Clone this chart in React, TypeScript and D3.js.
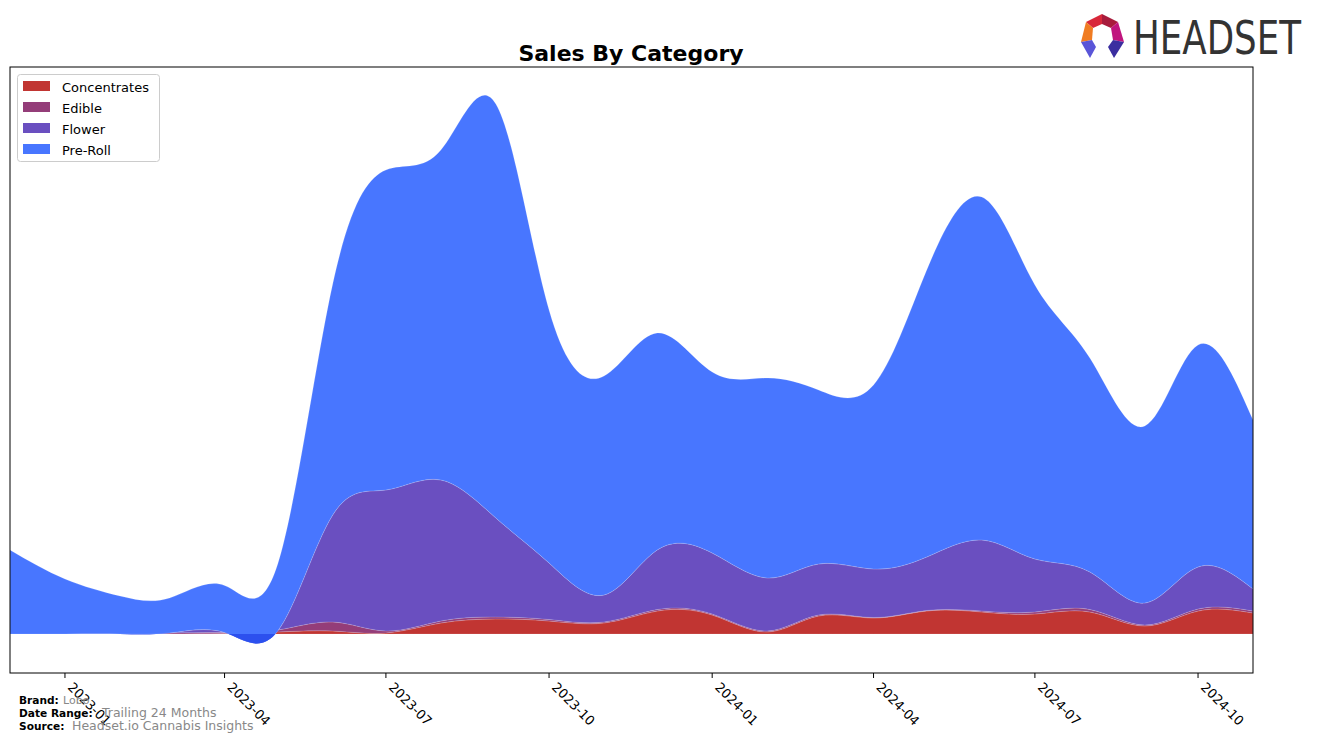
import React from "react";
import * as d3 from "d3";

const months = [
  "2022-12", "2023-01", "2023-02", "2023-03", "2023-04", "2023-05", "2023-06", "2023-07",
  "2023-08", "2023-09", "2023-10", "2023-11", "2023-12", "2024-01", "2024-02", "2024-03",
  "2024-04", "2024-05", "2024-06", "2024-07", "2024-08", "2024-09", "2024-10", "2024-11",
];
const concentrates = [0, 0, 0, 0, 0.1, 0.4, 0.6, 0.2, 2.2, 3.0, 2.6, 2.2, 4.6, 3.8, 0.4, 3.6, 3.2, 4.6, 4.4, 4.0, 4.4, 1.6, 4.6, 4.2];
const edible = [0, 0, 0, 0.2, 0.2, 0.4, 1.8, 0.4, 0.4, 0.4, 0.3, 0.2, 0.3, 0.2, 0.2, 0.2, 0.1, 0.1, 0.2, 0.4, 0.5, 0.2, 0.4, 0.4];
const flower = [0, 0, 0, 0, 0, -0.2, 21.4, 28.2, 28.2, 19.8, 11.3, 5.4, 11.9, 12.2, 10.6, 10.2, 9.7, 10.7, 14.2, 10.6, 7.5, 4.4, 8.4, 4.4];
const preRoll = [16.8, 11, 7.6, 7, 9.4, 13.4, 46.2, 64, 66, 82.8, 50.6, 43.8, 43.4, 36.2, 40, 34.8, 36.8, 57.4, 68.6, 54.8, 42.8, 35.4, 44.4, 33.8];

const categories = ["Concentrates", "Edible", "Flower", "Pre-Roll"];
const colors = ["#c13532", "#943d79", "#6a4fc0", "#4876ff"];
const overlapColor = "#2c50ee";
const tickLabels = ["2023-01", "2023-04", "2023-07", "2023-10", "2024-01", "2024-04", "2024-07", "2024-10"];
const yDomain = [-7.8, 113.4];

const W = 1317, H = 743;
const L = 10, R = 1253, T = 67, B = 673;

const parse = d3.timeParse("%Y-%m");

export default function App() {
  const rows = months.map((m, i) => ({
    date: parse(m) as Date,
    Concentrates: concentrates[i],
    Edible: edible[i],
    Flower: flower[i],
    "Pre-Roll": preRoll[i],
  }));
  const x = d3.scaleTime().domain([rows[0].date, rows[rows.length - 1].date]).range([L, R]);
  const y = d3.scaleLinear().domain(yDomain).range([B, T]);
  const stack = d3.stack<any>().keys(categories).order(d3.stackOrderNone).offset(d3.stackOffsetNone);
  const series = stack(rows);
  const area = d3
    .area<any>()
    .x((d) => x(d.data.date))
    .y0((d) => y(d[0]))
    .y1((d) => y(d[1]))
    .curve(d3.curveNatural);
  const zeroY = y(0);
  const flowerSeries = series[2];

  const font = "'DejaVu Sans', sans-serif";

  return (
    <svg width={W} height={H} style={{ position: "absolute", left: 0, top: 0, background: "#fff" }} fontFamily={font}>
      <rect x={0} y={0} width={W} height={H} fill="#fff" />
      <defs>
        <clipPath id="plot">
          <rect x={L} y={T} width={R - L} height={B - T} />
        </clipPath>
        <clipPath id="belowZero">
          <rect x={L} y={zeroY} width={R - L} height={B - zeroY} />
        </clipPath>
      </defs>
      <g clipPath="url(#plot)">
        {series.map((s, i) => (
          <path key={s.key} d={area(s as any) || ""} fill={colors[i]} stroke="#ffffff" strokeOpacity={0.25} strokeWidth={0.6} />
        ))}
        <g clipPath="url(#belowZero)">
          <path d={area(flowerSeries as any) || ""} fill={overlapColor} />
        </g>
      </g>
      <rect x={L} y={T} width={R - L} height={B - T} fill="none" stroke="#000" strokeWidth={1} />
      {tickLabels.map((t) => {
        const tx = x(parse(t) as Date);
        return (
          <g key={t}>
            <line x1={tx} x2={tx} y1={B} y2={B + 5} stroke="#000" strokeWidth={1} />
            <text x={0} y={0} fontSize={13} textAnchor="start" transform={`translate(${tx + 2},${B + 15}) rotate(45)`} fill="#000">
              {t}
            </text>
          </g>
        );
      })}
      <text x={631} y={61} textAnchor="middle" fontSize={22} fontWeight="bold" fill="#000">
        Sales By Category
      </text>
      <g>
        <rect x={17.5} y={74.5} width={142} height={87} rx={3} fill="#fff" fillOpacity={0.8} stroke="#cccccc" />
        {categories.map((c, i) => (
          <g key={c}>
            <rect x={23} y={81 + i * 21} width={27} height={10} fill={colors[i]} />
            <text x={62} y={91.5 + i * 21} fontSize={13} fill="#000">
              {c}
            </text>
          </g>
        ))}
      </g>
      <g fontSize={10.6}>
        <text x={19} y={704} fontWeight="bold" fill="#000">Brand:</text>
        <text x={63} y={704} fill="#888" fontSize={11}>Lobo</text>
        <text x={19} y={717} fontWeight="bold" fill="#000">Date Range:</text>
        <text x={102} y={717} fill="#888" fontSize={12.5}>Trailing 24 Months</text>
        <text x={19} y={730} fontWeight="bold" fill="#000">Source:</text>
        <text x={72} y={730} fill="#888" fontSize={12.5}>Headset.io Cannabis Insights</text>
      </g>
      <g>
        <polygon points="1086,22 1102,14 1102,24 1093,28" fill="#d8283a" />
        <polygon points="1102,14 1118,22 1111,28 1102,24" fill="#a81c3c" />
        <polygon points="1086,22 1093,28 1092,40 1081,42" fill="#f07c22" />
        <polygon points="1118,22 1124,42 1113,40 1111,28" fill="#c0157e" />
        <polygon points="1081,42 1092,40 1096,47 1090,58" fill="#5a55d8" />
        <polygon points="1124,42 1113,40 1108,47 1114,58" fill="#3b2ea0" />
        <text x={1133} y={54} fontSize={46} fill="#333" textLength={168} lengthAdjust="spacingAndGlyphs" fontFamily="'DejaVu Sans Condensed', 'Liberation Sans Narrow', sans-serif">
          HEADSET
        </text>
      </g>
    </svg>
  );
}
